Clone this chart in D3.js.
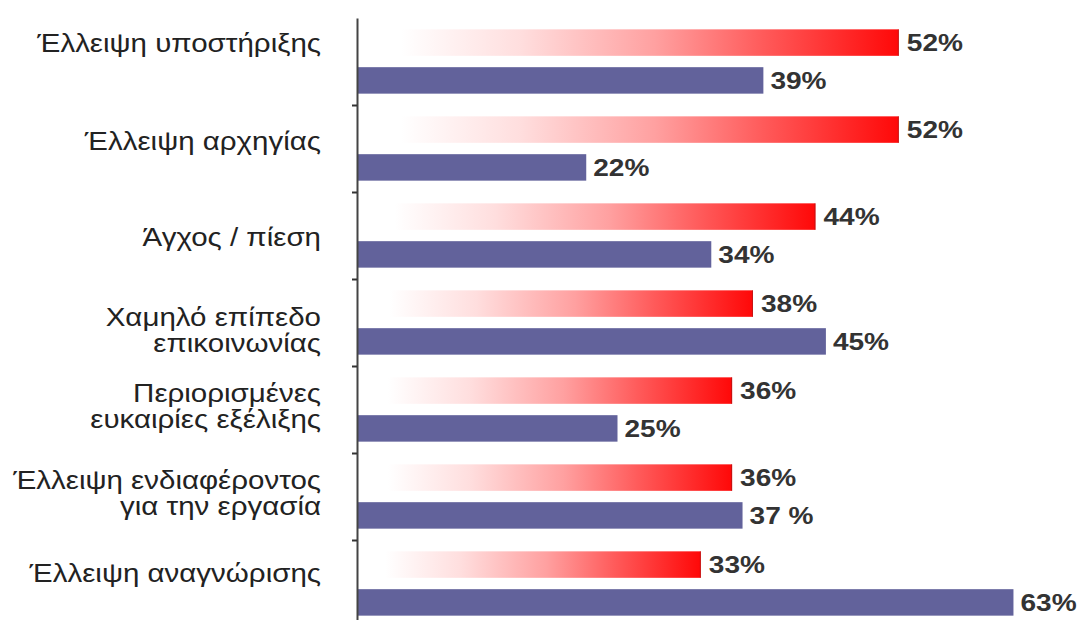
<!DOCTYPE html>
<html><head><meta charset="utf-8">
<script src="https://cdn.jsdelivr.net/npm/d3@7"></script>
<style>html,body{margin:0;padding:0;background:#fff;}svg{display:block;}</style>
</head><body>
<svg id="chart" width="1084" height="620"></svg>
<script>
const categories = [
  ["Έλλειψη υποστήριξης"],
  ["Έλλειψη αρχηγίας"],
  ["Άγχος / πίεση"],
  ["Χαμηλό επίπεδο", "επικοινωνίας"],
  ["Περιορισμένες", "ευκαιρίες εξέλιξης"],
  ["Έλλειψη ενδιαφέροντος", "για την εργασία"],
  ["Έλλειψη αναγνώρισης"]
];
const seriesNames = ["red", "blue"];
const redValues  = [52, 52, 44, 38, 36, 36, 33];
const blueValues = [39, 22, 34, 45, 25, 37, 63];
const valueLabelsRed  = ["52%", "52%", "44%", "38%", "36%", "36%", "33%"];
const valueLabelsBlue = ["39%", "22%", "34%", "45%", "25%", "37 %", "63%"];

// layout (not data): vertical nudge of category labels relative to group centre
const labelNudge = [-18, -7, 2, 8, -3, -3, -10];

const svg = d3.select("#chart");
const x0 = 357, topY = 18, step = 87;
const x = d3.scaleLinear().domain([0, 100]).range([x0, x0 + 1042]);
const idx = d3.range(categories.length);
const y = d3.scaleBand().domain(idx).range([topY, topY + step * categories.length]).padding(0);
const inner = d3.scaleBand().domain(seriesNames).range([0, y.bandwidth()]).paddingInner(0.3).paddingOuter(0.3);

const defs = svg.append("defs");
const grad = defs.append("linearGradient").attr("id", "redGrad")
  .attr("x1", "0%").attr("x2", "100%").attr("y1", "0%").attr("y2", "0%");
[[0, "#ffffff"], [0.08, "#ffffff"], [0.3, "#ffdede"], [0.55, "#ffa0a0"], [0.75, "#ff5a5a"], [1, "#ff0808"]]
  .forEach(([o, c]) => grad.append("stop").attr("offset", o).attr("stop-color", c));

const groups = svg.append("g").selectAll("g").data(idx).join("g")
  .attr("transform", i => `translate(0,${y(i)})`);

groups.append("rect")
  .attr("x", x(0) + 1)
  .attr("y", inner("red"))
  .attr("width", i => x(redValues[i]) - x(0) - 1)
  .attr("height", inner.bandwidth())
  .attr("fill", "url(#redGrad)");
// dark right edge of the red bars
groups.append("line")
  .attr("x1", i => x(redValues[i]) - 0.5).attr("x2", i => x(redValues[i]) - 0.5)
  .attr("y1", inner("red")).attr("y2", inner("red") + inner.bandwidth())
  .attr("stroke", "#a01818").attr("stroke-width", 1).attr("opacity", 0.6);

groups.append("rect")
  .attr("x", x(0) + 1)
  .attr("y", inner("blue"))
  .attr("width", i => x(blueValues[i]) - x(0) - 1)
  .attr("height", inner.bandwidth())
  .attr("fill", "#62629b");

const valFont = "'Liberation Sans', Arial, sans-serif";
const sxVal = 1.17, sxCat = 1.18;
function valueText(sel, vals, labels, key, dx) {
  sel.append("text")
    .attr("transform", i => `translate(${x(vals[i]) + dx},${inner(key) + inner.bandwidth() / 2}) scale(${sxVal},1)`)
    .attr("dy", "0.36em")
    .attr("font-family", valFont).attr("font-weight", "bold").attr("font-size", 24)
    .attr("fill", "#333")
    .text(i => labels[i]);
}
valueText(groups, redValues, valueLabelsRed, "red", 8);
valueText(groups, blueValues, valueLabelsBlue, "blue", 7);

// category labels
const lh = 26;
groups.append("text")
  .attr("text-anchor", "end")
  .attr("transform", `translate(321,0) scale(${sxCat},1)`)
  .attr("font-family", valFont).attr("font-size", 25)
  .attr("fill", "#222")
  .each(function(i) {
    const lines = categories[i];
    const cy = y.bandwidth() / 2 + labelNudge[i];
    const t = d3.select(this);
    lines.forEach((ln, k) => {
      t.append("tspan").attr("x", 0)
        .attr("y", cy + (k - (lines.length - 1) / 2) * lh)
        .attr("dy", "0.36em").text(ln);
    });
  });

// axis
const yb = d3.scaleLinear().domain([0, categories.length]).range([topY, topY + step * categories.length]);
const axis = svg.append("g").attr("transform", `translate(${x0},0)`)
  .call(d3.axisLeft(yb).tickValues(d3.range(1, categories.length)).tickFormat("").tickSize(5).tickSizeOuter(0));
axis.select(".domain").attr("stroke", "#444").attr("stroke-width", 2);
axis.selectAll(".tick line").attr("stroke", "#333").attr("stroke-width", 2);
</script>
</body></html>
